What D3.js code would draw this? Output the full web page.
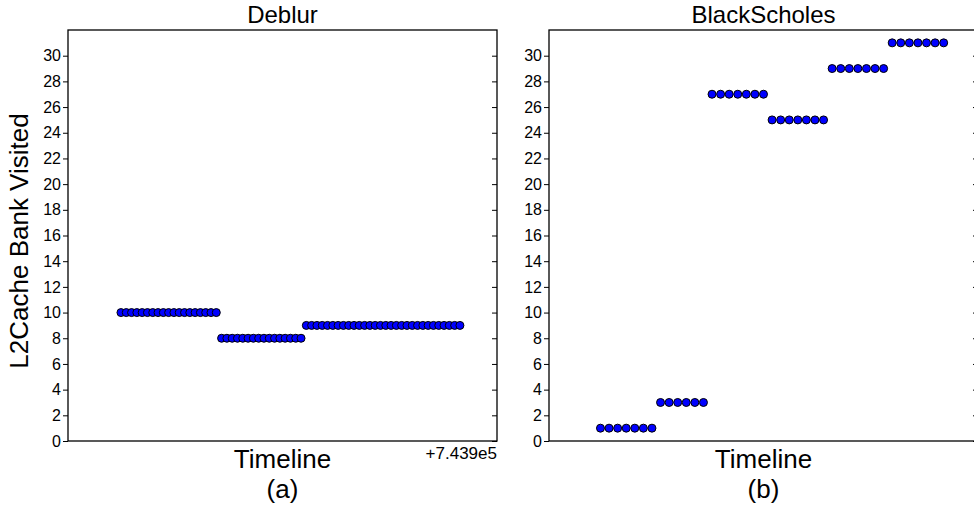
<!DOCTYPE html>
<html>
<head>
<meta charset="utf-8">
<script src="https://cdn.jsdelivr.net/npm/d3@7"></script>
<style>
  body { margin: 0; background: white; }
  text { font-family: "Liberation Sans", Arial, sans-serif; fill: black; }
</style>
</head>
<body>
<svg id="my-svg"></svg>
<script>
// bank visited per sample, in timeline order
const deblurBanks = [
  10,10,10,10,10,10,10,10,10,10,10,10,10,10,10,10,10,10,10,
  8,8,8,8,8,8,8,8,8,8,8,8,8,8,8,8,
  9,9,9,9,9,9,9,9,9,9,9,9,9,9,9,9,9,9,9,9,9,9,9,9,9,9,9,9,9,9
];
const blackScholesBanks = [
  1,1,1,1,1,1,1,
  3,3,3,3,3,3,
  27,27,27,27,27,27,27,
  25,25,25,25,25,25,25,
  29,29,29,29,29,29,29,
  31,31,31,31,31,31,31
];
const deblurStart = 743910;   // first timeline sample (offset +7.439e5)
const deblurXDomain = [743900, 743981];
const bsXDomain = [-6, 44];
const yTicks = [0,2,4,6,8,10,12,14,16,18,20,22,24,26,28,30];
const yDomain = [0, 32];

const width = 974, height = 508;
const plotTop = 30, plotBottom = 441, panelW = 429;

const svg = d3.select("#my-svg")
    .attr("width", width)
    .attr("height", height);

const y = d3.scaleLinear().domain(yDomain).range([plotBottom, plotTop]);

function panel(left, title, letter, banks, xDomain, start, offsetText) {
    const x = d3.scaleLinear().domain(xDomain).range([left, left + panelW]);
    const g = svg.append("g");

    const yl = g.append("g")
        .attr("transform", `translate(${left},0)`)
        .call(d3.axisLeft(y).tickValues(yTicks).tickSize(5).tickPadding(2));
    yl.select(".domain").remove();
    yl.selectAll("text").style("font-size", "16px").style("font-family", "'Liberation Sans', Arial, sans-serif");

    const yr = g.append("g")
        .attr("transform", `translate(${left + panelW},0)`)
        .call(d3.axisLeft(y).tickValues(yTicks).tickSize(5).tickFormat(""));
    yr.select(".domain").remove();

    g.append("rect")
        .attr("x", left).attr("y", plotTop)
        .attr("width", panelW).attr("height", plotBottom - plotTop)
        .attr("fill", "none")
        .attr("stroke", "black")
        .attr("stroke-width", 1.3);

    g.append("g")
        .selectAll("circle")
        .data(banks)
        .join("circle")
            .attr("cx", (d, i) => x(start + i))
            .attr("cy", d => y(d))
            .attr("r", 4)
            .style("fill", "#0000ff")
            .attr("stroke", "black")
            .attr("stroke-width", 1);

    const cx = left + panelW / 2;
    g.append("text")
        .attr("x", cx).attr("y", 23)
        .attr("text-anchor", "middle")
        .style("font-size", "24px")
        .text(title);
    g.append("text")
        .attr("x", cx).attr("y", 468)
        .attr("text-anchor", "middle")
        .style("font-size", "26px")
        .text("Timeline");
    g.append("text")
        .attr("x", cx).attr("y", 498)
        .attr("text-anchor", "middle")
        .style("font-size", "26px")
        .text(letter);
    if (offsetText) {
        g.append("text")
            .attr("x", left + panelW).attr("y", 459)
            .attr("text-anchor", "end")
            .style("font-size", "17px")
            .text(offsetText);
    }
}

panel(68, "Deblur", "(a)", deblurBanks, deblurXDomain, deblurStart, "+7.439e5");
panel(549, "BlackScholes", "(b)", blackScholesBanks, bsXDomain, 0, null);

svg.append("text")
    .attr("text-anchor", "middle")
    .attr("transform", `translate(28,241) rotate(-90)`)
    .style("font-size", "26px")
    .text("L2Cache Bank Visited");
</script>
</body>
</html>
